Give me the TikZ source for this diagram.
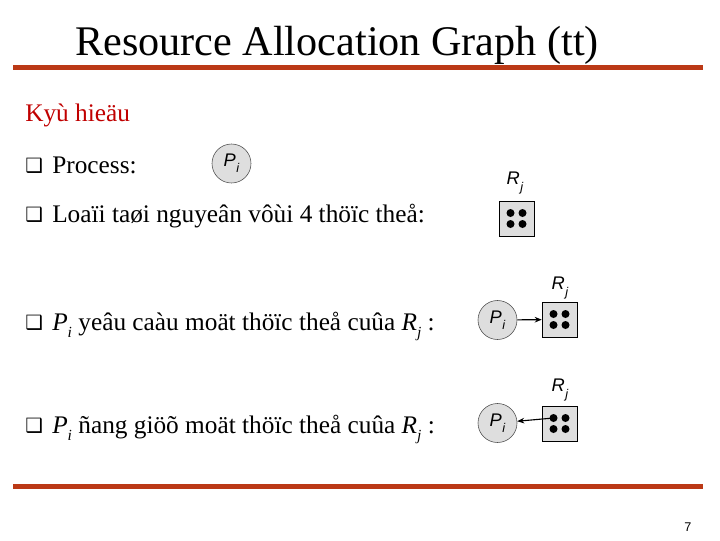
\documentclass[tikz,border=0pt]{standalone}
\usepackage{fontspec}
\setmainfont{Liberation Serif}
\newfontfamily\arialfont{Liberation Sans}
\newfontfamily\dejafont{DejaVu Sans}
\usepackage{tikz}
\usetikzlibrary{arrows.meta}
\definecolor{rust}{RGB}{187,57,22}
\definecolor{headred}{RGB}{192,0,0}
\definecolor{procgray}{RGB}{222,222,222}

\tikzset{
  proc/.style = {circle, draw = black!70, fill = procgray, minimum size = 0.975cm, inner sep = 0pt,
                 font = \arialfont\itshape\fontsize{13}{15}\selectfont},
  res/.style = {draw, fill = procgray, minimum size = 0.875cm, inner sep = 0pt},
  tok/.style = {circle, fill, minimum size = 0.2cm, inner sep = 0pt},
  lbl/.style = {inner sep = 0pt, font = \arialfont\itshape\fontsize{13}{15}\selectfont},
  txt/.style = {anchor = base west, inner sep = 0pt, font = \fontsize{18}{21}\selectfont},
  bul/.style = {anchor = base west, inner sep = 0pt, font = \dejafont\fontsize{14}{16}\selectfont}
}
% resource box with four instances
\newcommand\resbox[3]{%
  \node[res] (#1) at (#2,#3) {};
  \node[tok] (#1-a) at ([shift={(-6,-5.5)}]#1.center) {};
  \node[tok] (#1-b) at ([shift={(6,-5.5)}]#1.center) {};
  \node[tok] (#1-c) at ([shift={(-6,5.5)}]#1.center) {};
  \node[tok] (#1-d) at ([shift={(6,5.5)}]#1.center) {};
}
\newcommand\procP{P\kern0.03em\raisebox{-0.35em}{\fontsize{9}{10}\selectfont i}}
\newcommand\resR{R\kern0.03em\raisebox{-0.35em}{\fontsize{9}{10}\selectfont j}}
\newcommand\tPi{\textit{P}\raisebox{-0.3em}{\fontsize{11}{12}\selectfont\textit{i}}}
\newcommand\tRj{\textit{R}\raisebox{-0.3em}{\fontsize{11}{12}\selectfont\textit{j}}}

\begin{document}
\begin{tikzpicture}[x = 0.025cm, y = -0.025cm]
  \useasboundingbox (0,0) rectangle (720,540);
  \node[txt, font = \fontsize{30}{34}\selectfont] (title) at (75,55) {Resource Allocation Graph (tt)};
  \draw[rust, line width = 0.125cm] (13,67) -- (703,67);
  \node[txt, headred] (head) at (25,121) {Kyù hieäu};

  \begin{scope}[nodes = bul]
    \node (b1) at (25,172) {❑};
    \node (b2) at (25,221) {❑};
    \node (b3) at (25,329) {❑};
    \node (b4) at (25,432) {❑};
  \end{scope}
  \node[txt] (t1) at (52,173) {Process:};
  \node[txt] (t2) at (52,222) {Loaïi taøi nguyeân vôùi 4 thöïc theå:};
  \node[txt] (t3) at (52,330) {\tPi\ yeâu caàu moät thöïc theå cuûa \tRj\ :};
  \node[txt] (t4) at (52,433) {\tPi\ ñang giöõ moät thöïc theå cuûa \tRj\ :};

  % process
  \node[proc] (p1) at (231.5,163.5) {\procP};
  % resource type
  \node[lbl] (l1) at (515,183) {\resR};
  \resbox{r1}{516.5}{218.5}
  % request edge
  \node[proc] (p2) at (497.5,320) {\procP};
  \resbox{r2}{559.5}{319.5}
  \node[lbl] (l2) at (560,288) {\resR};
  \draw[-{Stealth[length=5pt, width=4pt]}, line width = 0.8pt] (p2) -- (r2);
  % assignment edge
  \node[proc] (p3) at (497.5,423) {\procP};
  \resbox{r3}{559.5}{423.5}
  \node[lbl] (l3) at (560,390) {\resR};
  \draw[-{Stealth[length=5pt, width=4pt]}, line width = 0.8pt] (r3-a.center) -- (p3);

  \draw[rust, line width = 0.125cm] (13,486) -- (703,486);
  \node[inner sep = 0pt, font = \arialfont\fontsize{9}{10}\selectfont] (page) at (688,527) {7};
\end{tikzpicture}
\end{document}
